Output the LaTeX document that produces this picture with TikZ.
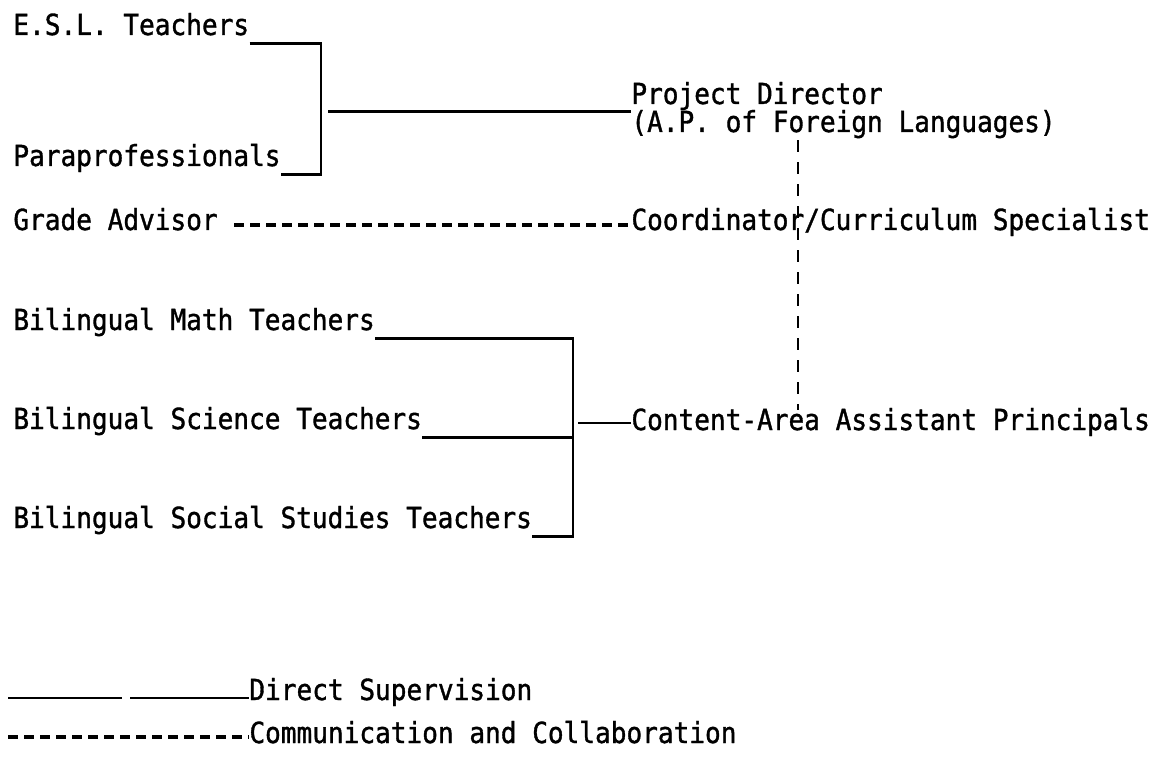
\documentclass[tikz,border=0pt]{standalone}
\usepackage{fontspec}
\setmainfont{DejaVu Sans Mono}[FakeStretch=0.9, FakeBold=1.2]
\usepackage{tikz}

\begin{document}
\begin{tikzpicture}[
    x=0.5pt, y=-0.5pt,
    font=\fontsize{14.5}{15}\selectfont,
    lbl/.style={inner sep=0pt, anchor=base west, text height=10pt, text depth=4pt},
    sup/.style={line width=1.3pt},
    comm/.style={line width=1.6pt, dash pattern=on 5pt off 3pt}
  ]
    \fill[white] (0,0) rectangle (1160,764);
    \useasboundingbox (0,0) rectangle (1160,764);
    \node[lbl] (esl) at (13,35) {E.S.L. Teachers};
    \node[lbl] (para) at (13,166) {Paraprofessionals};
    \node[lbl] (grade) at (13,230) {Grade Advisor};
    \node[lbl] (math) at (13,330) {Bilingual Math Teachers};
    \node[lbl] (sci) at (13,429) {Bilingual Science Teachers};
    \node[lbl] (soc) at (13,528) {Bilingual Social Studies Teachers};
    \node[lbl] (dir) at (631,104) {Project Director};
    \node[lbl] (dirap) at (631,132) {(A.P. of Foreign Languages)};
    \node[lbl] (coord) at (631,230) {Coordinator/Curriculum Specialist};
    \node[lbl] (capr) at (631,430) {Content-Area Assistant Principals};
    \node[lbl] (keysup) at (249,700) {Direct Supervision};
    \node[lbl] (keycom) at (249,743) {Communication and Collaboration};
    \coordinate (brone) at (321,0);
    \coordinate (brtwo) at (573,0);
    \coordinate (vdash) at (798,0);
    \coordinate (supstart) at (8,698);
    \coordinate (comstart) at (8,737);
    % supervision brackets
    \draw[sup] (esl.south east) -| (brone |- para.south) -- (para.south east);
    \draw[sup] ([xshift=3.5pt]brone |- dirap.north) -- (dirap.north west);
    \draw[sup] (math.south east) -| (brtwo |- soc.south) -- (soc.south east);
    \draw[sup] (sci.south east) -- (sci.south east -| brtwo);
    \draw[sup] ([xshift=2.5pt,yshift=3.5pt]brtwo |- capr.base) -- ([yshift=3.5pt]capr.base west);
    % communication
    \draw[comm] ([shift={(8pt,2.5pt)}]grade.base east) -- ([yshift=2.5pt]coord.base west);
    \draw[comm, line width=1.3pt, dash pattern=on 6pt off 5pt] (vdash |- dirap.south) -- (vdash |- capr.north);
    % key
    \draw[sup, dash pattern=on 57pt off 4pt on 200pt off 0pt] (supstart) -- ([yshift=1pt]keysup.base west);
    \draw[comm] (comstart) -- ([yshift=3pt]keycom.base west);
\end{tikzpicture}
\end{document}
